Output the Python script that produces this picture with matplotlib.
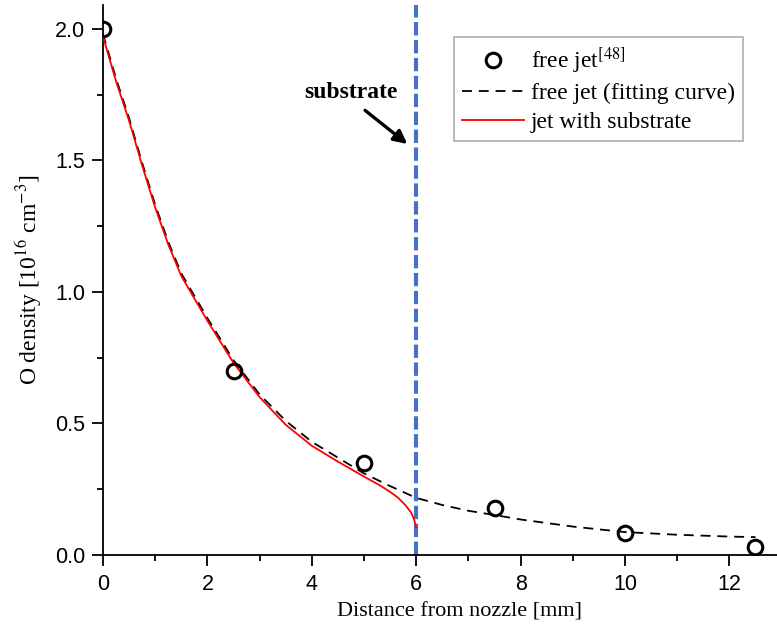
import matplotlib
matplotlib.use("Agg")
from matplotlib import pyplot as plt
from matplotlib.ticker import MultipleLocator, FormatStrFormatter

plt.rcParams['font.family'] = ['Liberation Serif', 'DejaVu Serif']
plt.rcParams['mathtext.fontset'] = 'stix'

# measured free jet points
pts_x = [0, 2.5, 5, 7.5, 10, 12.5]
pts_y = [2.0, 0.70, 0.35, 0.18, 0.083, 0.03]

# fitting curve
fit_x = [0, 0.25, 0.5, 0.75, 1.0, 1.25, 1.5, 2.0, 2.5, 3.0, 3.5, 4.0, 4.5, 5.0, 5.5,
         6.0, 6.5, 7.0, 7.5, 8.0, 9.0, 10.0, 11.0, 12.0, 12.5]
fit_y = [1.98, 1.81, 1.66, 1.49, 1.33, 1.19, 1.07, 0.90, 0.74, 0.61, 0.51, 0.43, 0.37,
         0.31, 0.262, 0.217, 0.19, 0.168, 0.152, 0.135, 0.108, 0.087, 0.077, 0.070, 0.068]

# jet with substrate
sub_x = [0, 0.25, 0.5, 0.75, 1.0, 1.25, 1.5, 2.0, 2.5, 3.0, 3.5, 4.0, 4.5, 5.0, 5.3,
         5.5, 5.65, 5.8, 5.9, 5.95, 5.98, 6.0]
sub_y = [1.97, 1.80, 1.65, 1.48, 1.32, 1.18, 1.06, 0.89, 0.73, 0.60, 0.495, 0.415, 0.355,
         0.298, 0.265, 0.24, 0.218, 0.188, 0.162, 0.14, 0.12, 0.105]

substrate_pos = 6

fig = plt.figure(figsize=(7.77, 6.38), dpi=100)
# axis runs on past the right edge of the picture (cropped like the original)
ax = fig.add_axes([0.1326, 0.1301, 0.9163, 0.8619])

ax.plot(pts_x, pts_y, 'o', mfc='none', mec='black', ms=10.5, mew=2.2,
        label='free jet$^{[48]}$', zorder=4)
ax.plot(fit_x, fit_y, '--', color='black', lw=1.3, dashes=(5.5, 3.8),
        label='free jet (fitting curve)', zorder=3)
ax.plot(sub_x, sub_y, '-', color='red', lw=1.3, label='jet with substrate', zorder=3)
ax.axvline(substrate_pos, color='#4472C4', lw=3, dashes=(3.2, 1.1), zorder=2)

ax.text(4.75, 1.757, 'substrate', fontsize=17, fontweight='bold',
        ha='center', va='center')
ax.annotate('', xy=(5.83, 1.562), xytext=(5.02, 1.69),
            arrowprops=dict(arrowstyle='-|>', color='black', lw=2.4,
                            mutation_scale=20, shrinkA=0, shrinkB=0))

ax.set_xlim(0, 13.64)
ax.set_ylim(0, 2.09)
ax.xaxis.set_major_locator(MultipleLocator(2))
ax.xaxis.set_minor_locator(MultipleLocator(1))
ax.yaxis.set_major_locator(MultipleLocator(0.5))
ax.yaxis.set_minor_locator(MultipleLocator(0.25))
ax.yaxis.set_major_formatter(FormatStrFormatter('%.1f'))

ax.spines[['right', 'top']].set_visible(False)
for s in ['left', 'bottom']:
    ax.spines[s].set_linewidth(1.3)
ax.tick_params(which='major', length=8, width=1.3, labelsize=15.5)
ax.tick_params(axis='y', which='major', pad=5)
ax.tick_params(axis='x', which='major', pad=6)
ax.tick_params(which='minor', length=4.5, width=1.3)
for lab in ax.get_xticklabels() + ax.get_yticklabels():
    lab.set_fontfamily('Liberation Sans')

ax.set_xlabel('Distance from nozzle [mm]', fontsize=16, labelpad=5)
ax.set_ylabel('O density [10$^{16}$ cm$^{-3}$]', fontsize=17, labelpad=8)

leg = ax.legend(loc='upper right', bbox_to_anchor=(743 / 777, 1 - 37 / 638),
                bbox_transform=fig.transFigure, borderaxespad=0, fontsize=17,
                frameon=True, fancybox=False, edgecolor='#999999',
                handlelength=2.6, handletextpad=0.3, borderpad=0.35,
                labelspacing=0.3)
leg.get_frame().set_linewidth(1.2)

fig.savefig('out.png', dpi=100)
